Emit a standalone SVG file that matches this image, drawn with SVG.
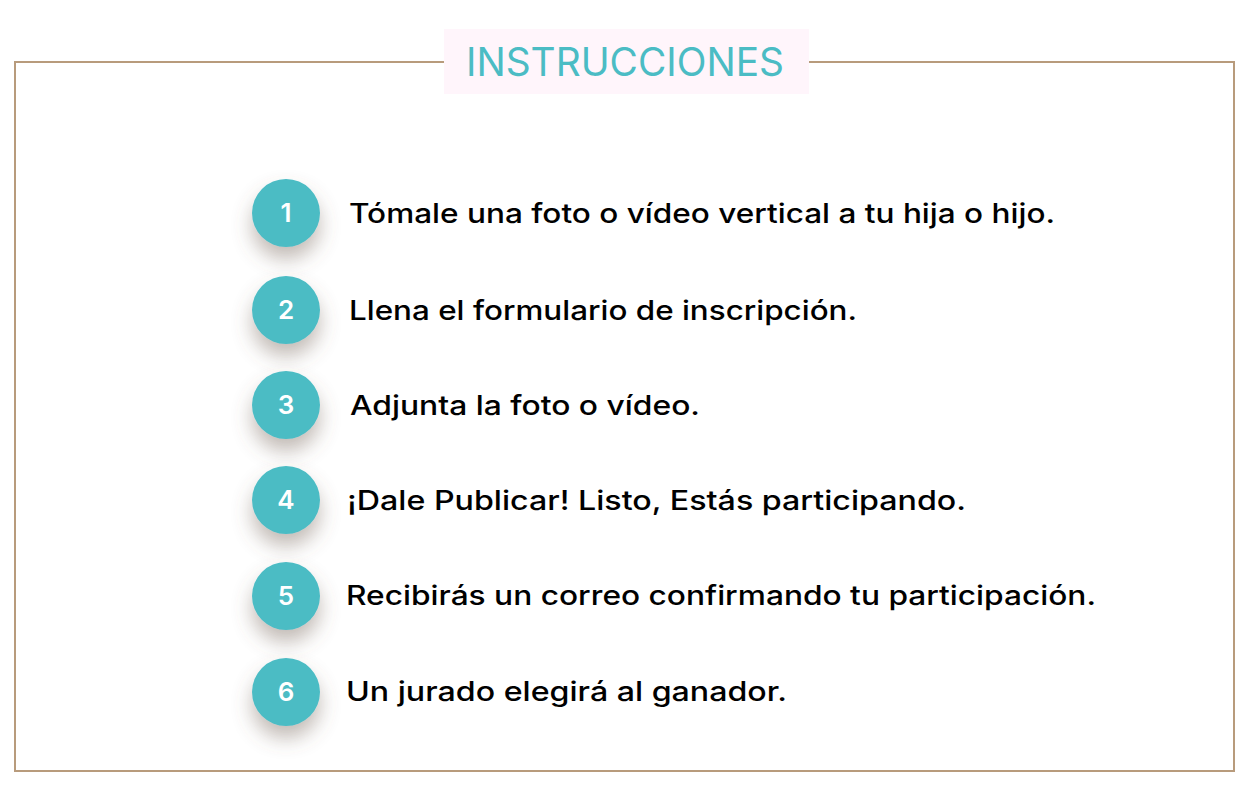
<svg xmlns="http://www.w3.org/2000/svg" width="1250" height="800" viewBox="0 0 1250 800">
<style>
.step-text{font-family:Inter,"Noto Sans","Liberation Sans",sans-serif;font-size:27px;font-weight:500;fill:#000000}
.num{font-family:Inter,"Noto Sans","Liberation Sans",sans-serif;font-size:26px;font-weight:600;fill:#ffffff;text-anchor:middle}
.circ{fill:#4bbcc4}
.title{font-family:Inter,"Noto Sans","Liberation Sans",sans-serif;font-size:39px;font-weight:400;fill:#4bbcc4}
</style>
<defs>
<filter id="sh" x="-80%" y="-80%" width="260%" height="280%">
<feDropShadow dx="0" dy="12" stdDeviation="10" flood-color="#6b5a50" flood-opacity="0.42"/>
</filter>
</defs>
<rect width="1250" height="800" fill="#ffffff"/>
<g id="frame">
<rect x="15" y="62" width="1219" height="709" fill="none" stroke="#b89b7c" stroke-width="2"/>
</g>
<g id="title">
<rect x="444" y="29" width="365" height="65" fill="#fff5fb"/>
<text class="title" x="466" y="76" textLength="318" lengthAdjust="spacingAndGlyphs">INSTRUCCIONES</text>
</g>
<g id="connectors"></g>
<g id="step1">
<circle class="circ" cx="286" cy="213" r="34" filter="url(#sh)"/>
<text class="num" x="286" y="222">1</text>
<text class="step-text" x="349" y="223" textLength="706" lengthAdjust="spacingAndGlyphs">Tómale una foto o vídeo vertical a tu hija o hijo.</text>
</g>
<g id="step2">
<circle class="circ" cx="286" cy="310" r="34" filter="url(#sh)"/>
<text class="num" x="286" y="319">2</text>
<text class="step-text" x="349" y="320" textLength="508" lengthAdjust="spacingAndGlyphs">Llena el formulario de inscripción.</text>
</g>
<g id="step3">
<circle class="circ" cx="286" cy="405" r="34" filter="url(#sh)"/>
<text class="num" x="286" y="414">3</text>
<text class="step-text" x="350" y="415" textLength="350" lengthAdjust="spacingAndGlyphs">Adjunta la foto o vídeo.</text>
</g>
<g id="step4">
<circle class="circ" cx="286" cy="500" r="34" filter="url(#sh)"/>
<text class="num" x="286" y="509">4</text>
<text class="step-text" x="347" y="510" textLength="619" lengthAdjust="spacingAndGlyphs">¡Dale Publicar! Listo, Estás participando.</text>
</g>
<g id="step5">
<circle class="circ" cx="286" cy="596" r="34" filter="url(#sh)"/>
<text class="num" x="286" y="605">5</text>
<text class="step-text" x="346" y="605" textLength="750" lengthAdjust="spacingAndGlyphs">Recibirás un correo confirmando tu participación.</text>
</g>
<g id="step6">
<circle class="circ" cx="286" cy="692" r="34" filter="url(#sh)"/>
<text class="num" x="286" y="701">6</text>
<text class="step-text" x="346" y="701" textLength="441" lengthAdjust="spacingAndGlyphs">Un jurado elegirá al ganador.</text>
</g>
</svg>
